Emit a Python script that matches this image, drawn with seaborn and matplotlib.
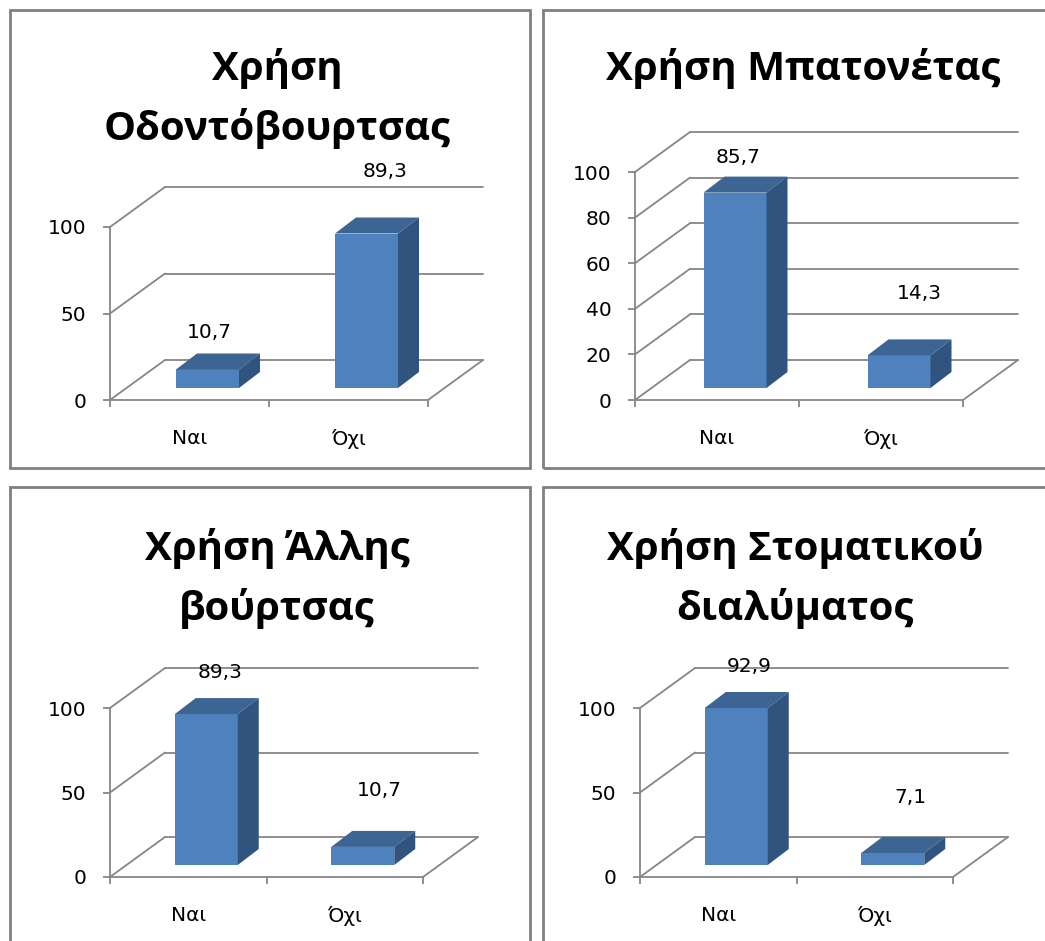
import matplotlib
matplotlib.use("Agg")
import matplotlib.pyplot as plt
from matplotlib.patches import Polygon, Rectangle
import pandas as pd
import seaborn as sns

# data
categories = ["Ναι", "Όχι"]
toothbrush = [10.7, 89.3]
cotton_bud = [85.7, 14.3]
other_brush = [89.3, 10.7]
mouthwash = [92.9, 7.1]
titles = ["Χρήση\nΟδοντόβουρτσας", "Χρήση Μπατονέτας",
          "Χρήση Άλλης\nβούρτσας", "Χρήση Στοματικού\nδιαλύματος"]
y_ticks = [[0, 50, 100], [0, 20, 40, 60, 80, 100], [0, 50, 100], [0, 50, 100]]

# look
FRONT = "#4F81BD"
TOP = "#3D6594"
SIDE = "#31547F"
GRID = "#868686"
W, H = 1045, 941
SHIFT = (18, 12)   # bars sit a bit into the depth (px)
BACK = (55, 40)    # back wall offset (px)
DEPTH = (21, 16)   # bar depth (px)
BAR_PX = 63

# pixel layout per panel: box, front axis (x left, x right, y of 0, y of 100)
layout = [
    dict(box=(10, 10, 530, 468), front=(110, 428, 400, 227), tx=277, tb=80,
         off=[(2, 37), (19, 62)]),
    dict(box=(543, 10, 1052, 468), front=(635, 963, 400, 172), tx=803, tb=80,
         off=[(3, 35), (20, 62)]),
    dict(box=(10, 487, 530, 948), front=(110, 423, 877, 708), tx=277, tb=560,
         off=[(14, 42), (17, 56)]),
    dict(box=(543, 487, 1052, 948), front=(640, 953, 877, 708), tx=795, tb=560,
         off=[(13, 41), (18, 56)]),
]

sns.set_style("white")
plt.rcParams["font.family"] = ["DejaVu Sans"]
plt.rcParams["text.color"] = "black"
plt.rcParams["xtick.labelcolor"] = "black"
plt.rcParams["ytick.labelcolor"] = "black"

fig = plt.figure(figsize=(W / 100, H / 100), dpi=100)

series = [toothbrush, cotton_bud, other_brush, mouthwash]
for vals, ticks, title, lay in zip(series, y_ticks, titles, layout):
    l, t, r, b = lay["box"]
    fig.add_artist(Rectangle((l / W, 1 - b / H), (r - l) / W, (b - t) / H,
                             transform=fig.transFigure, fill=False,
                             ec="#808080", lw=2))
    fx, fr, fy, f100 = lay["front"]
    ux = (fr - fx) / 2
    uy = (fy - f100) / 100
    sx, sy = SHIFT[0] / ux, SHIFT[1] / uy
    bdx, bdy = BACK[0] / ux, BACK[1] / uy

    al, at, ar, ab = l + 3, t + 3, r - 3, b - 3
    ax = fig.add_axes([al / W, 1 - ab / H, (ar - al) / W, (ab - at) / H])
    ax.set_facecolor("none")
    df = pd.DataFrame({"cat": categories, "val": vals})
    sns.barplot(df, x="cat", y="val", ax=ax, color=FRONT, saturation=1,
                width=BAR_PX / ux, linewidth=0, zorder=3)
    ax.set_xlim((al - fx - SHIFT[0]) / ux - 0.5, (ar - fx - SHIFT[0]) / ux - 0.5)
    ax.set_ylim((fy - SHIFT[1] - ab) / uy, (fy - SHIFT[1] - at) / uy)

    # walls and floor
    x0f, x1f = -0.5 - sx, 1.5 - sx
    for tv in ticks:
        yf = tv - sy
        ax.plot([x0f, x0f + bdx], [yf, yf + bdy], color=GRID, lw=1.3, zorder=1)
        ax.plot([x0f + bdx, x1f + bdx], [yf + bdy] * 2, color=GRID, lw=1.3, zorder=1)
    ax.plot([x1f, x1f + bdx], [-sy, -sy + bdy], color=GRID, lw=1.3, zorder=1)

    # 3d faces of the bars
    bars = list(ax.patches)
    ddx, ddy = DEPTH[0] / ux, DEPTH[1] / uy
    for bar in bars:
        x, w, h = bar.get_x(), bar.get_width(), bar.get_height()
        ax.add_patch(Polygon([(x, h), (x + w, h), (x + w + ddx, h + ddy), (x + ddx, h + ddy)],
                             closed=True, fc=TOP, lw=0, zorder=3))
        ax.add_patch(Polygon([(x + w, 0), (x + w + ddx, ddy), (x + w + ddx, h + ddy), (x + w, h)],
                             closed=True, fc=SIDE, lw=0, zorder=3))

    for bar, v, (ox, oy) in zip(bars, vals, lay["off"]):
        ax.annotate(f"{v:.1f}".replace(".", ","),
                    (bar.get_x() + bar.get_width() / 2, bar.get_height()),
                    xytext=(ox, oy), textcoords="offset pixels",
                    ha="center", va="center", fontsize=14.5, color="black", zorder=4)

    # front axes
    sns.despine(ax=ax)
    for side in ["left", "bottom"]:
        ax.spines[side].set_color(GRID)
        ax.spines[side].set_linewidth(1.3)
    ax.spines["left"].set_position(("data", x0f))
    ax.spines["left"].set_bounds(-sy, ticks[-1] - sy)
    ax.spines["bottom"].set_position(("data", -sy))
    ax.spines["bottom"].set_bounds(x0f, x1f)
    ax.set_yticks([tv - sy for tv in ticks], [str(tv) for tv in ticks])
    ax.set_xticks([i - sx for i in range(len(categories))], categories)
    ax.set_xticks([x0f, 0.5 - sx, x1f], minor=True)
    ax.tick_params(axis="x", which="major", length=0, pad=21, labelsize=14.5,
                   labelcolor="black")
    ax.tick_params(axis="x", which="minor", length=5, width=1.3, color=GRID,
                   direction="out", bottom=True)
    ax.tick_params(axis="y", length=5, width=1.3, color=GRID, pad=12, labelsize=14.5,
                   direction="out", left=True, labelcolor="black")
    ax.set_xlabel("")
    ax.set_ylabel("")

    for k, line in enumerate(title.split("\n")):
        fig.text(lay["tx"] / W, 1 - (lay["tb"] + 60 * k) / H, line, ha="center",
                 va="baseline", fontsize=29, fontweight="bold", family="Open Sans",
                 color="black")

fig.savefig("out.png", dpi=100)
